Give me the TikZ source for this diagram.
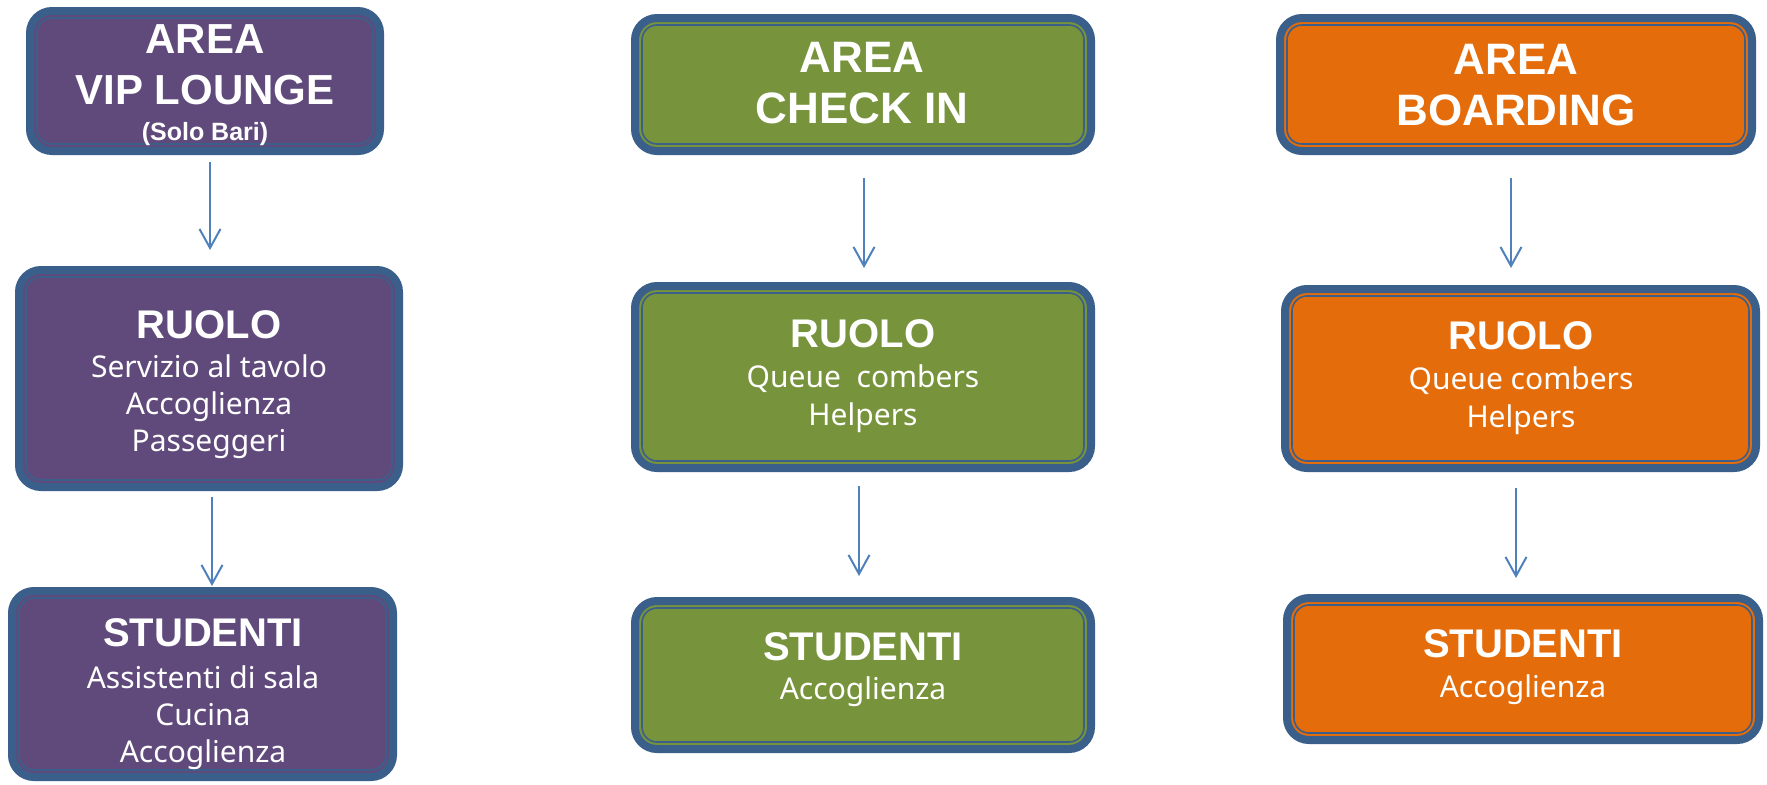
\documentclass[tikz,border=0pt]{standalone}
\usepackage{fontspec}
\setmainfont{Noto Sans}
\newfontfamily\boldfam{Liberation Sans}
\usetikzlibrary{arrows.meta}
\definecolor{vipc}{HTML}{604A7B}
\definecolor{chkc}{HTML}{77933C}
\definecolor{brdc}{HTML}{E46C0A}
\definecolor{edgec}{HTML}{3A5F8B}
\definecolor{arrc}{HTML}{4F81BD}
\tikzset{
  box/.style={draw=edgec, line width=4pt, fill=#1, rounded corners=11pt, outer sep=0pt, inner sep=0pt},
  innerline/.style={draw=edgec, line width=0.8pt, rounded corners=7.5pt},
  txt/.style={text=white, anchor=base, inner sep=0pt, outer sep=0pt},
  ttl/.style={txt, font=\boldfam\bfseries\fontsize{21pt}{25pt}\selectfont},
  ttlb/.style={txt, font=\boldfam\bfseries\fontsize{22pt}{26pt}\selectfont},
  subt/.style={txt, font=\boldfam\bfseries\fontsize{12.5pt}{15pt}\selectfont},
  hd/.style={txt, font=\boldfam\bfseries\fontsize{20pt}{24pt}\selectfont},
  bd/.style={txt, font=\fontsize{15pt}{18pt}\selectfont},
  arr/.style={draw=arrc, line width=1pt, -{Straight Barb[length=9.5pt,width=10.5pt]}}
}
\begin{document}
\begin{tikzpicture}[x=0.5pt,y=-0.5pt]
\useasboundingbox (0,0) rectangle (1767,784);
\fill[white] (0,0) rectangle (1767,784);
% boxes
\node[box=vipc, minimum width=175pt, minimum height=70pt] (vipA) at (205,81) {};
\node[box=vipc, minimum width=190pt, minimum height=108.5pt] (vipR) at (209,378.5) {};
\node[box=vipc, minimum width=190.5pt, minimum height=93pt] (vipS) at (202.5,684) {};
\node[box=chkc, minimum width=228pt, minimum height=66.5pt] (ciA) at (863,84.5) {};
\node[box=chkc, minimum width=228pt, minimum height=91pt] (ciR) at (863,377) {};
\node[box=chkc, minimum width=228pt, minimum height=74pt] (ciS) at (863,675) {};
\node[box=brdc, minimum width=236pt, minimum height=66.5pt] (boA) at (1516,84.5) {};
\node[box=brdc, minimum width=235.5pt, minimum height=89.5pt] (boR) at (1520.5,378.5) {};
\node[box=brdc, minimum width=236pt, minimum height=71pt] (boS) at (1523,669) {};
\foreach \n in {vipA,vipR,vipS,ciA,ciR,ciS,boA,boR,boS}
  \draw[innerline] ([shift={(3.5pt,-3.5pt)}]\n.north west) rectangle ([shift={(-3.5pt,3.5pt)}]\n.south east);
% texts VIP
\node[ttl] (vipA1) at (205,53) {AREA};
\node[ttl] (vipA2) at (205,104) {VIP LOUNGE};
\node[subt] (vipA3) at (205,140) {(Solo Bari)};
\node[hd] (vipR1) at (209,338) {RUOLO};
\node[bd] (vipR2) at (209,377) {Servizio al tavolo};
\node[bd] (vipR3) at (209,414) {Accoglienza};
\node[bd] (vipR4) at (209,451) {Passeggeri};
\node[hd] (vipS1) at (203,646) {STUDENTI};
\node[bd] (vipS2) at (203,688) {Assistenti di sala};
\node[bd] (vipS3) at (203,725) {Cucina};
\node[bd] (vipS4) at (203,762) {Accoglienza};
% texts check in
\node[ttlb] (ciA1) at (862,72) {AREA};
\node[ttlb] (ciA2) at (862,123) {CHECK IN};
\node[hd] (ciR1) at (863,347) {RUOLO};
\node[bd] (ciR2) at (863,387) {Queue\ \ combers};
\node[bd] (ciR3) at (863,425) {Helpers};
\node[hd] (ciS1) at (863,660) {STUDENTI};
\node[bd] (ciS2) at (863,699) {Accoglienza};
% texts boarding
\node[ttlb] (boA1) at (1516,74) {AREA};
\node[ttlb] (boA2) at (1516,125) {BOARDING};
\node[hd] (boR1) at (1521,349) {RUOLO};
\node[bd] (boR2) at (1521,389) {Queue combers};
\node[bd] (boR3) at (1521,427) {Helpers};
\node[hd] (boS1) at (1523,657) {STUDENTI};
\node[bd] (boS2) at (1523,697) {Accoglienza};
% arrows
\draw[arr, shorten <=5.5pt, shorten >=10pt] ([xshift=2.5pt]vipA.south) -- ([xshift=0.5pt]vipR.north);
\draw[arr, shorten <=5pt, shorten >=2.5pt] ([xshift=1.5pt]vipR.south) -- ([xshift=4.75pt]vipS.north);
\draw[arr, shorten <=13.5pt, shorten >=9pt] ([xshift=0.5pt]ciA.south) -- ([xshift=0.5pt]ciR.north);
\draw[arr, shorten <=9pt, shorten >=12.5pt] ([xshift=-2pt]ciR.south) -- ([xshift=-2pt]ciS.north);
\draw[arr, shorten <=13.5pt, shorten >=10.5pt] ([xshift=-2.5pt]boA.south) -- ([xshift=-4.75pt]boR.north);
\draw[arr, shorten <=10pt, shorten >=10pt] ([xshift=-2.25pt]boR.south) -- ([xshift=-3.5pt]boS.north);
\end{tikzpicture}
\end{document}
